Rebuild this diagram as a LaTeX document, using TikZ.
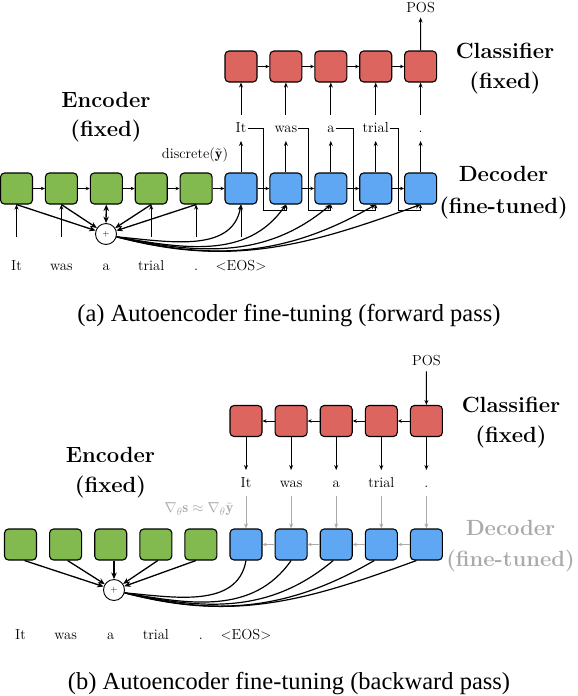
\documentclass[tikz,border=0pt]{standalone}
\usepackage{fontspec}
\newfontfamily\capfont{Liberation Serif}
\usetikzlibrary{arrows.meta,calc}
\definecolor{encgreen}{HTML}{82BA50}
\definecolor{decblue}{HTML}{5FA7F2}
\definecolor{clsred}{HTML}{DC6560}
\definecolor{fadegray}{HTML}{AAAAAA}
\begin{document}
\begin{tikzpicture}[x=1pt,y=1pt,
 cell/.style={draw=black, line width=1.1pt, rounded corners=4pt, minimum width=32pt, minimum height=31pt, inner sep=0pt},
 enc/.style={cell, fill=encgreen},
 dec/.style={cell, fill=decblue},
 cls/.style={cell, fill=clsred},
 lbl/.style={font=\fontsize{14.5}{17}\selectfont, inner sep=0pt},
 word/.style={lbl, text height=9.5pt, text depth=0pt, inner ysep=8pt, inner xsep=1pt},
 ttl/.style={font=\fontsize{22}{26}\selectfont\bfseries, inner sep=0pt},
 thin/.style={line width=0.8pt, -{Stealth[length=4pt,width=3.5pt]}},
 link/.style={line width=0.9pt, -{Stealth[length=5pt,width=4pt]}},
 heavy/.style={line width=1.3pt, -{Stealth[length=6.5pt,width=5.5pt]}},
 curve/.style={line width=1.2pt},
 plus/.style={circle, draw, line width=0.9pt, minimum size=21pt, inner sep=0pt, fill=white, font=\fontsize{9}{9}\selectfont},
]
\useasboundingbox (0,0) rectangle (578,-696);

% ================= (a) forward pass =================
\foreach \i in {1,...,5} {
  \node[enc] (ae\i) at ({16.5+44.9*(\i-1)}, -188.5) {};
  \node[dec] (ad\i) at ({16.5+44.9*(\i+4)}, -188.5) {};
  \node[cls] (ac\i) at ({16.5+44.9*(\i+4)}, -66.5) {};
}
\foreach \i/\w in {1/It,2/was,3/a,4/trial,5/.} {
  \node[word] (aw\i) at ({16.5+44.9*(\i+4)}, -128) {\w};
}
\foreach \i/\w in {1/It,2/was,3/a,4/trial,5/.,6/{$<$EOS$>$}} {
  \node[word] (ai\i) at ({16.5+44.9*(\i-1)}, -266) {\w};
}
\node[plus] (ap) at (106,-234) {+};
\node[lbl, inner sep=4pt] (apos) at (420.6,-8) {POS};
\node[lbl] (adisc) at (195,-155) {discrete($\tilde{\mathbf{y}}$)};

\node[ttl] (aenc1) at (106,-100) {Encoder};
\node[ttl] (aenc2) at (106,-131) {(fixed)};
\node[ttl] (acls1) at (505,-51) {Classifier};
\node[ttl] (acls2) at (505,-83) {(fixed)};
\node[ttl] (adec1) at (503.5,-173.5) {Decoder};
\node[ttl] (adec2) at (503.5,-208) {(fine-tuned)};

\foreach \i/\j in {1/2,2/3,3/4,4/5} {
  \draw[thin] (ae\i) -- (ae\j);
  \draw[thin] (ad\i) -- (ad\j);
  \draw[thin] (ac\i) -- (ac\j);
}
\draw[thin] (ae5) -- (ad1);
\foreach \i in {1,...,5} {
  \draw[link] (ad\i) -- (aw\i);
  \draw[link] (aw\i) -- (ac\i);
}
\draw[link] (ac5) -- (apos);

\foreach \i/\j in {1/2,2/3,3/4,4/5} {
  \coordinate (afb\i) at ($(ad\i.south)+(22.5,-6)$);
  \draw[thin] (aw\i.east) -| (afb\i) -| (ad\j.south);
}

\coordinate (ainTop) at (0,-237);
\foreach \i in {1,2,4,5} {
  \draw[link] (ai\i |- ainTop) -- (ae\i.south);
}
\draw[link] (ai6 |- ainTop) -- (ad1.south);

\foreach \i in {1,2,4,5} {
  \draw[heavy] (ae\i.south) -- (ap);
}
\draw[heavy, {Stealth[length=6.5pt,width=5.5pt]}-{Stealth[length=6.5pt,width=5.5pt]}] (ae3.south) -- (ap.north);

\foreach \i/\o/\n in {1/-5/-100,2/-10/-125,3/-12/-140,4/-14/-150,5/-15/-160} {
  \draw[curve, -{Stealth[length=5.5pt,width=4.5pt]}] (ap.-15) to[out=\o,in=\n] (ad\i.south);
}

\node[font=\capfont\fontsize{24.5}{28}\selectfont, inner sep=0pt] (capa) at (289,-316) {(a) Autoencoder fine-tuning (forward pass)};

% ================= (b) backward pass =================
\foreach \i in {1,...,5} {
  \node[enc] (be\i) at ({20.5+45.1*(\i-1)}, -544.5) {};
  \node[dec] (bd\i) at ({20.5+45.1*(\i+4)}, -544.5) {};
  \node[cls] (bc\i) at ({20.5+45.1*(\i+4)}, -421) {};
}
\foreach \i/\w in {1/It,2/was,3/a,4/trial,5/.} {
  \node[word] (bw\i) at ({20.5+45.1*(\i+4)}, -483) {\w};
}
\foreach \i/\w in {1/It,2/was,3/a,4/trial,5/.,6/{$<$EOS$>$}} {
  \node[word] (bi\i) at ({20.5+45.1*(\i-1)}, -635) {\w};
}
\node[plus] (bp) at (114,-590) {+};
\node[lbl, inner sep=5pt] (bpos) at (426.4,-361) {POS};
\node[lbl, text=fadegray, font=\fontsize{15}{18}\selectfont] (bgrad) at (199,-509) {$\nabla_\theta \mathbf{s} \approx \nabla_\theta \tilde{\mathbf{y}}$};

\node[ttl] (benc1) at (110.5,-455) {Encoder};
\node[ttl] (benc2) at (110.5,-487) {(fixed)};
\node[ttl] (bcls1) at (511,-405) {Classifier};
\node[ttl] (bcls2) at (511,-437) {(fixed)};
\node[ttl, text=fadegray] (bdec1) at (510.5,-528) {Decoder};
\node[ttl, text=fadegray] (bdec2) at (510.5,-561) {(fine-tuned)};

\foreach \i/\j in {1/2,2/3,3/4,4/5} {
  \draw[thin] (bc\j) -- (bc\i);
  \draw[thin, fadegray] (bd\j) -- (bd\i);
}
\foreach \i in {1,...,5} {
  \draw[link] (bc\i) -- (bw\i);
  \draw[link, fadegray] (bw\i) -- (bd\i);
}
\draw[link] (bpos) -- (bc5);

\foreach \i/\s in {1/4,2/2,4/2,5/-5} {
  \draw[heavy] ($(be\i.south)+(\s,0)$) -- (bp);
}
\draw[heavy] (bp |- be3.south) -- (bp);

\foreach \i/\s/\o/\n in {1/0/-5/-100,2/0/-10/-125,3/-3/-12/-140,4/-7/-14/-150,5/-10/-15/-160} {
  \draw[curve] (bp.-15) to[out=\o,in=\n] ($(bd\i.south)+(\s,0)$);
}

\node[font=\capfont\fontsize{24.5}{28}\selectfont, inner sep=0pt] (capb) at (289,-684) {(b) Autoencoder fine-tuning (backward pass)};
\end{tikzpicture}
\end{document}
